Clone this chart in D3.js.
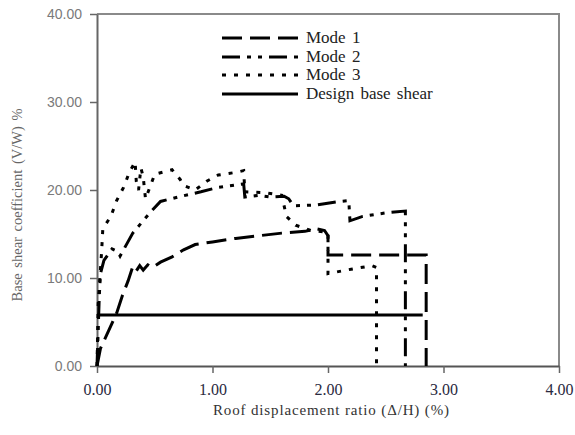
<!DOCTYPE html>
<html><head><meta charset="utf-8">
<script src="https://cdn.jsdelivr.net/npm/d3@7"></script>
<style>html,body{margin:0;padding:0;background:#fff;}svg{display:block;}</style>
</head><body>
<svg id="chart" width="575" height="435"></svg>
<script>
// ---- data ----
const xTicks = [0, 1, 2, 3, 4];
const yTicks = [0, 10, 20, 30, 40];
const seriesNames = ["Mode 1", "Mode 2", "Mode 3", "Design base shear"];
const mode1 = [[0,0],[0.03,2],[0.1,4],[0.17,6],[0.22,8],[0.27,9.7],[0.31,11.3],[0.34,10.8],[0.37,11.4],[0.4,10.9],[0.44,11.5],[0.48,11.2],[0.55,11.8],[0.65,12.4],[0.75,13.2],[0.85,13.8],[1.0,14.1],[1.2,14.5],[1.4,14.8],[1.6,15.1],[1.8,15.3],[1.9,15.6],[1.97,15.4],[2.0,14.8],[2.0,12.6],[2.4,12.6],[2.85,12.6],[2.85,0]];
const mode2 = [[0,0],[0.01,4],[0.02,8],[0.03,10.5],[0.06,12],[0.13,13.3],[0.18,13],[0.2,12.5],[0.31,15.1],[0.38,16.2],[0.47,17.6],[0.55,18.7],[0.7,19.2],[0.9,19.8],[1.05,20.3],[1.27,20.7],[1.28,19.2],[1.4,19.4],[1.5,19.2],[1.62,19.3],[1.66,19],[1.7,18.2],[1.9,18.3],[2.1,18.7],[2.18,18.8],[2.19,16.5],[2.3,17],[2.5,17.4],[2.67,17.6],[2.67,0]];
const mode3 = [[0,0],[0.005,3],[0.01,7],[0.02,9],[0.03,11],[0.04,13],[0.05,15.5],[0.07,16],[0.12,17],[0.17,18.8],[0.23,20.3],[0.28,22],[0.33,23.2],[0.34,21],[0.36,20],[0.38,22.5],[0.4,21.5],[0.42,19],[0.5,21.8],[0.65,22.3],[0.72,21.2],[0.75,20.5],[0.85,20],[0.95,21],[1.05,21.7],[1.2,22],[1.27,22.2],[1.28,19.8],[1.45,19.7],[1.6,19.4],[1.64,17],[1.72,16],[1.85,15.4],[2.0,15.2],[2.0,10.5],[2.2,11],[2.38,11.4],[2.42,11.2],[2.42,0]];
const designShear = [[0,5.8],[2.82,5.8]];

// ---- chart ----
const svg = d3.select("#chart");
const x = d3.scaleLinear().domain([0,4]).range([97,559]);
const y = d3.scaleLinear().domain([0,40]).range([366,14]);
const serif = "Liberation Serif, Times New Roman, serif";

// frame (top/right)
svg.append("path").attr("d", `M${x(0)},${y(40)}H${x(4)}V${y(0)}`)
  .attr("fill","none").attr("stroke","#8a8a8a").attr("stroke-width",2);

// y axis
const yAxis = svg.append("g").attr("transform",`translate(${x(0)},0)`)
  .call(d3.axisLeft(y).tickValues(yTicks).tickSize(7).tickSizeOuter(0).tickFormat(d3.format(".2f")));
yAxis.select(".domain").attr("stroke","#666").attr("stroke-width",2);
yAxis.selectAll(".tick line").attr("stroke","#666").attr("stroke-width",1.5);
yAxis.selectAll(".tick text").attr("fill","#7a7a7a").attr("font-family","Liberation Sans, Arial, sans-serif").attr("font-size",14).attr("x",-15);

// x axis
const xAxis = svg.append("g").attr("transform",`translate(0,${y(0)})`)
  .call(d3.axisBottom(x).tickValues(xTicks).tickSize(7).tickSizeOuter(0).tickFormat(d3.format(".2f")));
xAxis.select(".domain").attr("stroke","#555").attr("stroke-width",2);
xAxis.selectAll(".tick line").attr("stroke","#666").attr("stroke-width",1.5);
xAxis.selectAll(".tick text").attr("fill","#2a2a40").attr("font-family",serif).attr("font-size",16).attr("y",17.5);

const line = d3.line().x(d=>x(d[0])).y(d=>y(d[1]));
const styles = [
  {data: mode1, dash: "20,8", w: 3},
  {data: mode2, dash: "18,7,4,7,4,7", w: 3},
  {data: mode3, dash: "4,8", w: 3},
  {data: designShear, dash: null, w: 3}
];
styles.forEach(s => {
  svg.append("path").datum(s.data).attr("d", line)
    .attr("fill","none").attr("stroke","#000").attr("stroke-width", s.w)
    .attr("stroke-dasharray", s.dash);
});

// legend
const legY = [38, 57, 75, 94];
styles.forEach((s,i) => {
  svg.append("line").attr("x1",222).attr("x2",298).attr("y1",legY[i]).attr("y2",legY[i])
    .attr("stroke","#000").attr("stroke-width", s.w).attr("stroke-dasharray", s.dash);
  svg.append("text").attr("x",306).attr("y",legY[i]+5).text(seriesNames[i])
    .attr("font-family",serif).attr("font-size",17).attr("fill","#222").attr("word-spacing",2);
});

// axis titles
svg.append("text").attr("x",331).attr("y",415).attr("text-anchor","middle")
  .attr("font-family",serif).attr("font-size",15).attr("fill","#333")
  .attr("textLength",236).attr("lengthAdjust","spacing")
  .text("Roof displacement ratio (\u0394/H) (%)");
svg.append("text").attr("transform","translate(22,205) rotate(-90)").attr("text-anchor","middle")
  .attr("font-family",serif).attr("font-size",14.5).attr("fill","#666")
  .attr("word-spacing",2)
  .text("Base shear  coefficient  (V/W) %");
</script>
</body></html>
